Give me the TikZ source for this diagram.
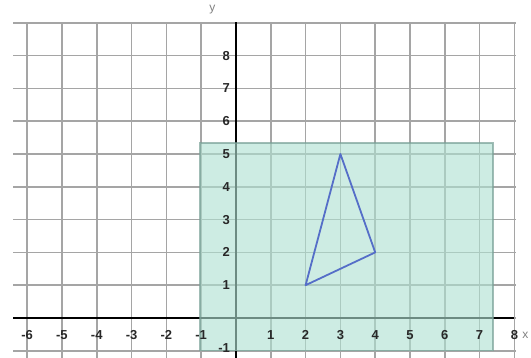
\documentclass[tikz,border=0pt]{standalone}
\usepackage{fontspec}
\setmainfont{Liberation Sans}
\definecolor{gridgray}{RGB}{165,165,165}
\definecolor{regionfill}{RGB}{175,225,210}
\definecolor{regionedge}{RGB}{120,160,150}
\definecolor{tri}{RGB}{85,110,200}
\definecolor{lbl}{RGB}{40,40,40}
\tikzset{
  gridline/.style={draw=gridgray, line width=1.6pt},
  axisline/.style={draw=black, line width=2.4pt},
  ticklbl/.style={font=\fontsize{13}{13}\selectfont\bfseries, text=lbl, inner sep=0pt},
}
\begin{document}
\begin{tikzpicture}[x=34.8pt,y=32.8pt]
\useasboundingbox (-6.782,-1.2195) rectangle (8.477,9.695);
% grid
\foreach \k in {-1,...,9} \draw[gridline] (-6.4,\k) -- (8.05,\k);
\foreach \k in {-6,...,8} \draw[gridline] (\k,-1.25) -- (\k,9);
% axes
\draw[axisline] (-6.4,0) -- (8.0,0);
\draw[axisline] (0,-1.25) -- (0,9.03);
% shaded region
\fill[regionfill, fill opacity=0.62] (-1.03,-1) rectangle (7.38,5.34);
\draw[regionedge, line width=1.4pt, draw opacity=0.7] (-1.03,-1) rectangle (7.38,5.34);
% y labels
\foreach \k in {1,...,8} \node[ticklbl, anchor=east] (yl\k) at (-0.17,\k) {\k};
\node[ticklbl, anchor=east] (ylm1) at (-0.17,-0.93) {-1};
% x labels
\foreach \k in {1,...,8} \node[ticklbl] (xl\k) at (\k,-0.52) {\k};
\foreach \k in {1,...,6} \node[ticklbl, anchor=east] (xlm\k) at (-\k+0.17,-0.52) {-\k};
% axis names
\node[font=\fontsize{12}{12}\selectfont, text=gray, inner sep=0pt] (ylab) at (-0.68,9.4) {y};
\node[font=\fontsize{12}{12}\selectfont, text=gray, inner sep=0pt, anchor=west] (xlab) at (8.22,-0.52) {x};
% triangle
\coordinate (A) at (2,1);
\coordinate (B) at (3,5);
\coordinate (C) at (4,2);
\draw[tri, line width=1.8pt, line join=round] (A) -- (B) -- (C) -- cycle;
\end{tikzpicture}
\end{document}
